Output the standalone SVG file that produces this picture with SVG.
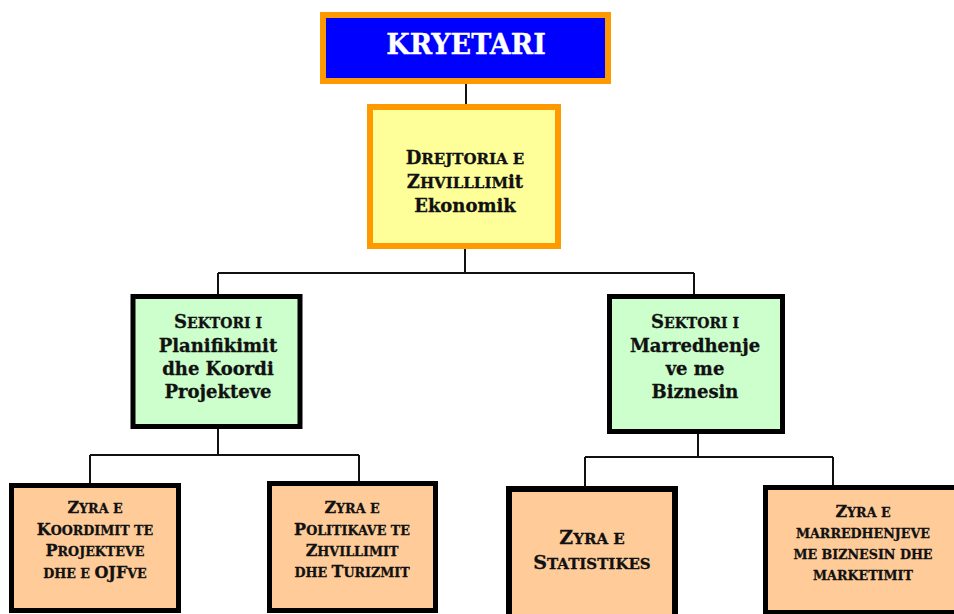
<svg xmlns="http://www.w3.org/2000/svg" width="954" height="614" viewBox="0 0 954 614">
<style>
.t{font-family:"DejaVu Serif","Liberation Serif",serif;font-weight:bold;text-anchor:middle;fill:#111;stroke:#111;stroke-width:0.3;font-size:18px}
.s{font-size:14px}
.ys{font-size:15px}
.b{font-size:16px}
.bs{font-size:12.7px}
.c{stroke:#111;stroke-width:2;fill:none}
.blk{stroke:#000;stroke-width:5}
.org{stroke:#FF9900;stroke-width:6}
</style>
<rect width="954" height="614" fill="#fff"/>
<g id="connectors">
<path class="c" d="M466 84V105"/>
<path class="c" d="M465 249V273M218 273H694M218 273V295M694 273V295"/>
<path class="c" d="M218 428V455M90 455H359M90 455V483M359 455V482"/>
<path class="c" d="M698 434V457M585 457H833M585 457V487M833 457V486"/>
</g>
<g id="kryetari">
<rect class="org" x="323" y="15" width="285" height="66" fill="#0000FF"/>
<text class="t" x="466" y="54" style="font-size:27px;fill:#fff;stroke:#fff">KRYETARI</text>
</g>
<g id="drejtoria">
<rect class="org" x="370" y="107" width="188" height="139" fill="#FFFF99"/>
<text class="t" x="465" y="164">D<tspan class="ys">REJTORIA E</tspan></text>
<text class="t" x="465" y="188">Z<tspan class="ys">HVILLLIM</tspan>it</text>
<text class="t" x="465" y="212">Ekonomik</text>
</g>
<g id="sektori-planifikimit">
<rect class="blk" x="133" y="296.5" width="167" height="130" fill="#CCFFCC"/>
<text class="t" x="218" y="328">S<tspan class="s">EKTORI I</tspan></text>
<text class="t" x="218" y="352">Planifikimit</text>
<text class="t" x="218" y="375">dhe Koordi</text>
<text class="t" x="218" y="398">Projekteve</text>
</g>
<g id="sektori-marredhenje">
<rect class="blk" x="609.5" y="296.5" width="173" height="135" fill="#CCFFCC"/>
<text class="t" x="695" y="328">S<tspan class="s">EKTORI I</tspan></text>
<text class="t" x="695" y="352">Marredhenje</text>
<text class="t" x="695" y="375">ve me</text>
<text class="t" x="695" y="398">Biznesin</text>
</g>
<g id="zyra-koordinimit">
<rect class="blk" x="11.5" y="485.5" width="167" height="125" fill="#FFCC99"/>
<text class="t b" x="95" y="513">Z<tspan class="bs">YRA E</tspan></text>
<text class="t b" x="95" y="535">K<tspan class="bs">OORDIMIT TE</tspan></text>
<text class="t b" x="95" y="556">P<tspan class="bs">ROJEKTEVE</tspan></text>
<text class="t b" x="95" y="578"><tspan class="bs">DHE E </tspan>OJF<tspan class="bs">VE</tspan></text>
</g>
<g id="zyra-politikave">
<rect class="blk" x="269.5" y="483.5" width="166" height="127" fill="#FFCC99"/>
<text class="t b" x="352" y="513">Z<tspan class="bs">YRA E</tspan></text>
<text class="t b" x="352" y="535">P<tspan class="bs">OLITIKAVE TE</tspan></text>
<text class="t b" x="352" y="556">Z<tspan class="bs">HVILLIMIT</tspan></text>
<text class="t b" x="352" y="577"><tspan class="bs">DHE </tspan>T<tspan class="bs">URIZMIT</tspan></text>
</g>
<g id="zyra-statistikes">
<rect class="blk" x="509" y="489" width="166" height="140" fill="#FFCC99" style="stroke-width:6"/>
<text class="t" x="592" y="544" style="font-size:19px">Z<tspan style="font-size:15px">YRA E</tspan></text>
<text class="t" x="592" y="569" style="font-size:19px">S<tspan style="font-size:15px">TATISTIKES</tspan></text>
</g>
<g id="zyra-marredhenjeve">
<rect class="blk" x="765.5" y="487.5" width="200" height="125" fill="#FFCC99"/>
<text class="t b" x="863" y="517">Z<tspan class="bs">YRA E</tspan></text>
<text class="t bs" x="863" y="538">MARREDHENJEVE</text>
<text class="t bs" x="863" y="559">ME BIZNESIN DHE</text>
<text class="t bs" x="863" y="580">MARKETIMIT</text>
</g>
</svg>
